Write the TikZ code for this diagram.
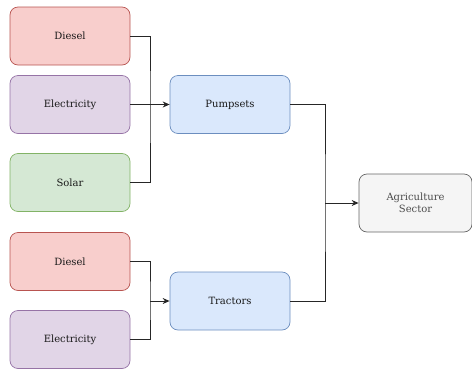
\documentclass[tikz,border=0pt]{standalone}
\usepackage{fontspec}
\setmainfont{DejaVu Serif}
\usetikzlibrary{arrows.meta}
\definecolor{redf}{HTML}{F8CECC}\definecolor{reds}{HTML}{B85450}
\definecolor{purf}{HTML}{E1D5E7}\definecolor{purs}{HTML}{9673A6}
\definecolor{grnf}{HTML}{D5E8D4}\definecolor{grns}{HTML}{82B366}
\definecolor{bluf}{HTML}{DAE8FC}\definecolor{blus}{HTML}{6C8EBF}
\definecolor{gryf}{HTML}{F5F5F5}\definecolor{grys}{HTML}{666666}
\begin{document}
\begin{tikzpicture}[x=1pt,y=-1pt,
  box/.style={rounded corners=8pt, line width=0.7pt, minimum width=120pt, minimum height=58pt, inner sep=0pt, font=\fontsize{10}{12.5}\selectfont, text=black!90, align=center},
  redbox/.style={box, fill=redf, draw=reds},
  purbox/.style={box, fill=purf, draw=purs},
  grnbox/.style={box, fill=grnf, draw=grns},
  blubox/.style={box, fill=bluf, draw=blus},
  grybox/.style={box, fill=gryf, draw=grys, text=black!70, minimum width=113pt},
  conn/.style={line width=0.9pt, draw=black!85},
  arr/.style={conn, -{Stealth[length=7pt,width=6pt]}}]
\useasboundingbox (0,0) rectangle (472,373);
\node[redbox] (d1) at (70,36) {Diesel};
\node[purbox] (e1) at (70,104.5) {Electricity};
\node[grnbox] (s1) at (70,182.5) {Solar};
\node[blubox] (p) at (230,104.5) {Pumpsets};
\node[redbox] (d2) at (70,261.5) {Diesel};
\node[purbox] (e2) at (70,339.5) {Electricity};
\node[blubox] (t) at (230,301) {Tractors};
\node[grybox] (a) at (415.5,203) {Agriculture\\Sector};
\coordinate (j1) at (150,104.5);
\coordinate (j2) at (150,301);
\coordinate (j3) at (325,203);
\draw[conn] (d1.east) -| (j1) |- (s1.east);
\draw[arr] (e1.east) -- (p.west);
\draw[conn] (d2.east) -| (j2) |- (e2.east);
\draw[arr] (j2) -- (t.west);
\draw[conn] (p.east) -| (j3) |- (t.east);
\draw[arr] (j3) -- (a.west);
\end{tikzpicture}
\end{document}
